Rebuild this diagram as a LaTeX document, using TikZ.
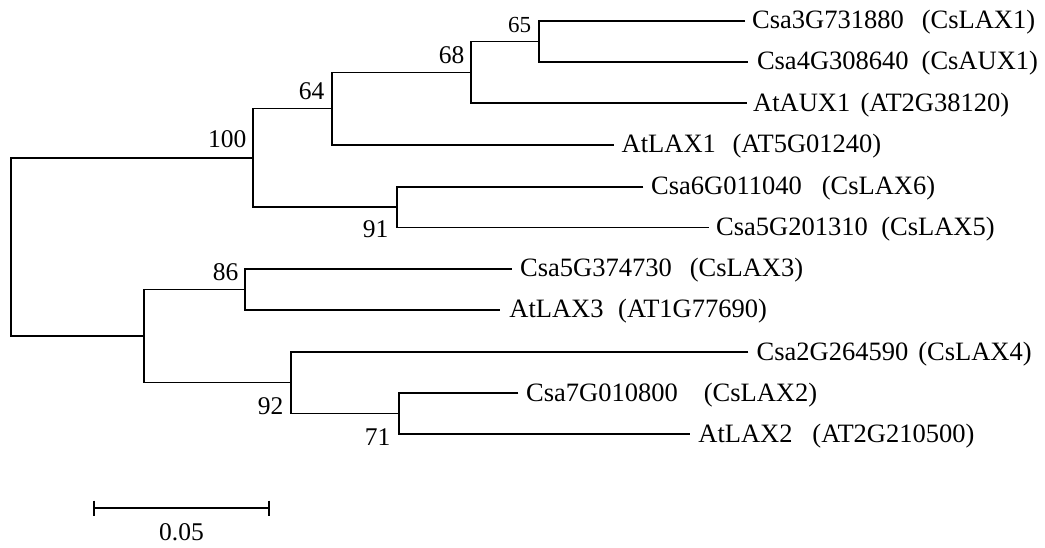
\documentclass[tikz,border=0pt]{standalone}
\usepackage{fontspec}
\setmainfont{Liberation Serif}
\newcommand{\leaflbl}[3]{\makebox[#1pt]{#2\hfill #3}}
\begin{document}
\begin{tikzpicture}[x=1pt,y=-1pt,
  br/.style={line width=1.7pt},
  leaf/.style={anchor=base west, inner sep=0pt, font=\fontsize{26.5}{30}\selectfont},
  bs/.style={anchor=base east, inner sep=0pt, font=\fontsize{25.5}{28}\selectfont},
  bss/.style={anchor=base east, inner sep=0pt, font=\fontsize{23}{26}\selectfont}]
\useasboundingbox (0,0) rectangle (1045,548);
% internal nodes
\coordinate (root) at (11,247);
\coordinate (n100) at (253,158);
\coordinate (n64) at (332,108.5);
\coordinate (n68) at (471,72.5);
\coordinate (n65) at (539.3,41.5);
\coordinate (n91) at (397,207);
\coordinate (nB) at (144,336);
\coordinate (n86) at (245,289.5);
\coordinate (n92) at (291,382.5);
\coordinate (n71) at (399,413.5);
% leaf tips
\coordinate (L1) at (745,20.7);
\coordinate (L2) at (748.3,61.7);
\coordinate (L3) at (746.7,103.3);
\coordinate (L4) at (614,145);
\coordinate (L5) at (643.3,186.7);
\coordinate (L6) at (709.3,227.5);
\coordinate (L7) at (511.7,269);
\coordinate (L8) at (500,310);
\coordinate (L9) at (748.3,352);
\coordinate (L10) at (518.3,393);
\coordinate (L11) at (690,434);
% branches
\draw[br] (n100) -| (root) |- (nB);
\draw[br] (n64) -| (n100) |- (n91);
\draw[br] (n68) -| (n64) |- (L4);
\draw[br] (n65) -| (n68) |- (L3);
\draw[br] (L1) -| (n65) |- (L2);
\draw[br] (L5) -| (n91) |- (L6);
\draw[br] (n86) -| (nB) |- (n92);
\draw[br] (L7) -| (n86) |- (L8);
\draw[br] (L9) -| (n92) |- (n71);
\draw[br] (L10) -| (n71) |- (L11);
% leaf labels
\node[leaf] (t1) at (752,28.7) {\leaflbl{283}{Csa3G731880}{(CsLAX1)}};
\node[leaf] (t2) at (756.8,69.7) {\leaflbl{281}{Csa4G308640}{(CsAUX1)}};
\node[leaf] (t3) at (753,111.3) {\leaflbl{256}{AtAUX1}{(AT2G38120)}};
\node[leaf] (t4) at (621.5,153) {\leaflbl{259.5}{AtLAX1}{(AT5G01240)}};
\node[leaf] (t5) at (651,194.7) {\leaflbl{284}{Csa6G011040}{(CsLAX6)}};
\node[leaf] (t6) at (716,235.5) {\leaflbl{278.5}{Csa5G201310}{(CsLAX5)}};
\node[leaf] (t7) at (520,277) {\leaflbl{283}{Csa5G374730}{(CsLAX3)}};
\node[leaf] (t8) at (509.2,318) {\leaflbl{257.5}{AtLAX3}{(AT1G77690)}};
\node[leaf] (t9) at (756.5,360) {\leaflbl{275}{Csa2G264590}{(CsLAX4)}};
\node[leaf] (t10) at (526,401) {\leaflbl{291}{Csa7G010800}{(CsLAX2)}};
\node[leaf] (t11) at (698.2,442) {\leaflbl{276}{AtLAX2}{(AT2G210500)}};
% bootstrap values
\node[bs] (b100) at (246.5,148) {100};
\node[bs] (b64) at (324.5,100) {64};
\node[bs] (b68) at (464.5,64) {68};
\node[bss] (b65) at (531.2,32.3) {65};
\node[bs] (b91) at (388.5,238) {91};
\node[bs] (b86) at (238.5,281) {86};
\node[bs] (b92) at (283.5,414) {92};
\node[bs] (b71) at (390.5,445) {71};
% scale bar
\coordinate (s1) at (94,508);
\coordinate (s2) at (269,508);
\draw[br] (s1) -- (s2);
\draw[br] ([yshift=7.5pt]s1) -- ([yshift=-7.5pt]s1);
\draw[br] ([yshift=7.5pt]s2) -- ([yshift=-7.5pt]s2);
\node[anchor=base, inner sep=0pt, font=\fontsize{25.5}{28}\selectfont] (slabel) at (181.5,540) {0.05};
\end{tikzpicture}
\end{document}
